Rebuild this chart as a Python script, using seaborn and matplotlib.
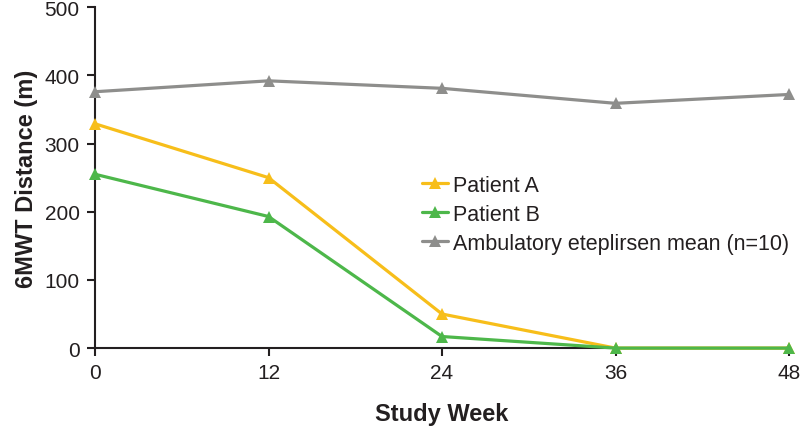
import matplotlib
matplotlib.use("Agg")
import matplotlib.pyplot as plt
import pandas as pd
import seaborn as sns

weeks = [0, 12, 24, 36, 48]
patient_a = [329, 250, 50, 0, 0]
patient_b = [255, 193, 17, 0, 0]
eteplirsen_mean = [376, 392, 381, 359, 372]

series_names = ["Patient A", "Patient B", "Ambulatory eteplirsen mean (n=10)"]
colors = ["#F7BE1A", "#4DB74A", "#8E8E8C"]

df = pd.concat(
    [
        pd.DataFrame({"week": weeks, "distance": vals, "series": name})
        for name, vals in zip(series_names, [patient_a, patient_b, eteplirsen_mean])
    ],
    ignore_index=True,
)

sns.set_style("ticks")
plt.rcParams["font.family"] = ["Liberation Sans", "DejaVu Sans"]

fig = plt.figure(figsize=(8, 4.31), dpi=100)
ax = fig.add_axes([0.11875, 0.19, 0.8675, 0.791])

sns.lineplot(
    data=df,
    x="week",
    y="distance",
    hue="series",
    hue_order=series_names,
    palette=dict(zip(series_names, colors)),
    marker="^",
    markersize=8,
    markeredgewidth=0,
    linewidth=2.3,
    ax=ax,
    clip_on=False,
    zorder=3,
)

ax.set_xlim(0, 48)
ax.set_ylim(0, 500)
ax.set_xticks(weeks)
ax.set_yticks([0, 100, 200, 300, 400, 500])

spine_color = "#231F20"
for side in ["top", "right"]:
    ax.spines[side].set_visible(False)
for side in ["left", "bottom"]:
    ax.spines[side].set_color(spine_color)
    ax.spines[side].set_linewidth(1.5)
ax.tick_params(direction="out", length=6, width=1.5, color=spine_color,
               labelsize=15, labelcolor=spine_color, pad=5)

ax.set_xlabel("Study Week", fontsize=17, fontweight="bold", color=spine_color, labelpad=14)
ax.set_ylabel("6MWT Distance (m)", fontsize=17, fontweight="bold", color=spine_color, labelpad=5)

leg = ax.legend(
    loc="upper left",
    bbox_to_anchor=(0.471, 0.508),
    frameon=False,
    fontsize=15.5,
    handlelength=1.2,
    handletextpad=0.25,
    labelspacing=0.37,
    borderpad=0,
    borderaxespad=0,
    title=None,
)
for t in leg.get_texts():
    t.set_color(spine_color)

fig.savefig("out.png", dpi=100)
